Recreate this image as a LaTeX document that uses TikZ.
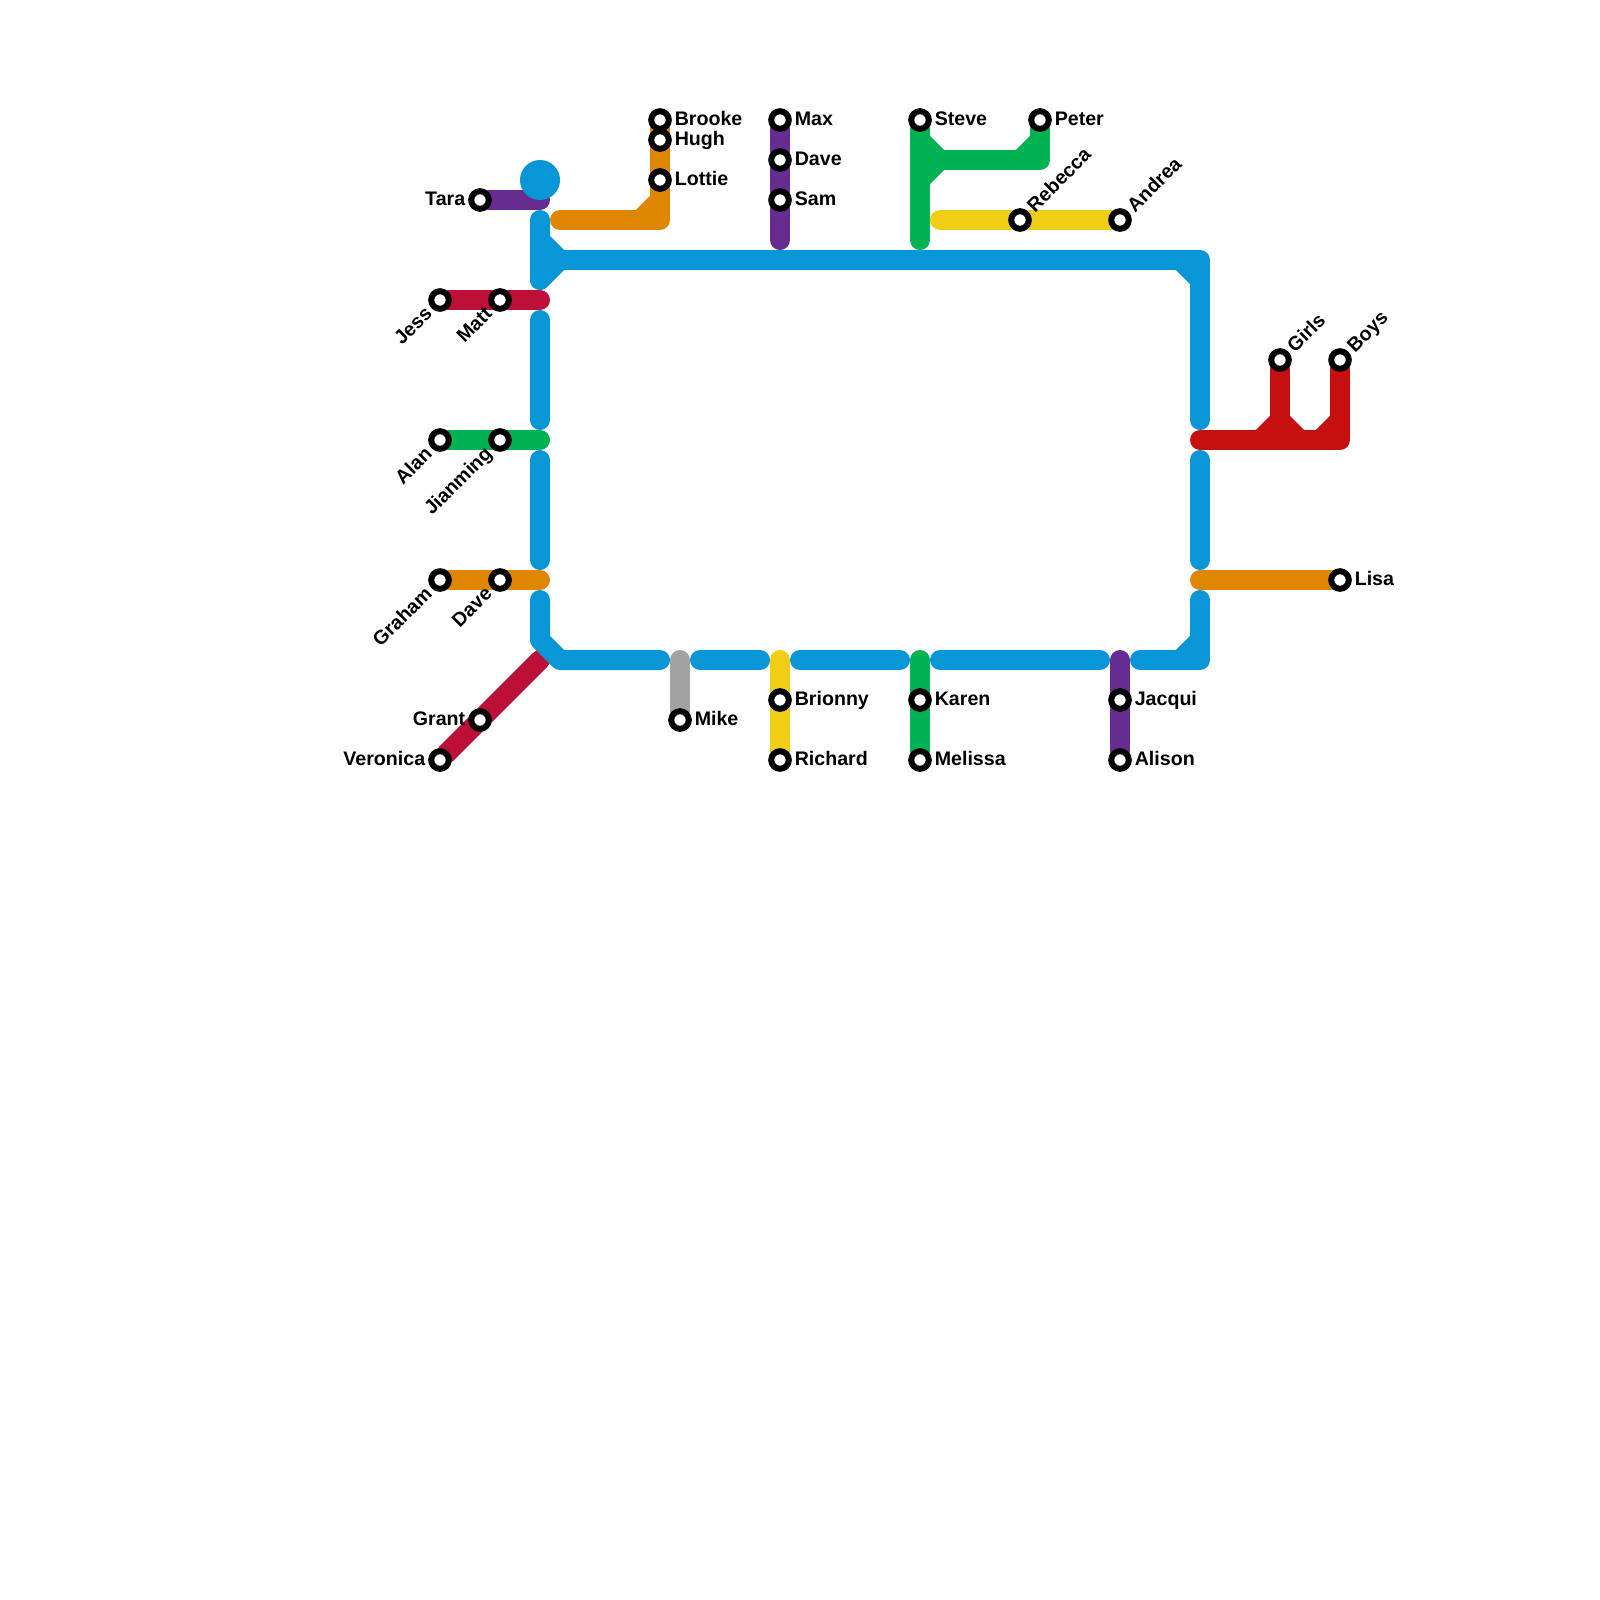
\documentclass[tikz,border=0pt]{standalone}
\usepackage{fontspec}
\setmainfont{Liberation Sans}
\usetikzlibrary{positioning,backgrounds}
\definecolor{Azure}{HTML}{0896D7}
\definecolor{Plum}{HTML}{662C90}
\definecolor{Crimson}{HTML}{BD1038}
\definecolor{Amber}{HTML}{DF8600}
\definecolor{Leaf}{HTML}{00B251}
\definecolor{Gold}{HTML}{F0CE15}
\definecolor{Ash}{HTML}{A2A2A2}
\definecolor{Scarlet}{HTML}{C61010}
\tikzset{
  st/.style={circle,draw=black,line width=.3cm,fill=white,minimum size=.88cm,inner sep=0pt,outer sep=0pt},
  hubst/.style={circle,fill=Azure,minimum size=2cm,inner sep=0pt},
  tube/.style={line width=1cm,line cap=round,line join=round},
  azure/.style={tube,draw=Azure},
  plum/.style={tube,draw=Plum},
  crimson/.style={tube,draw=Crimson},
  amber/.style={tube,draw=Amber},
  leaf/.style={tube,draw=Leaf},
  gold/.style={tube,draw=Gold},
  ash/.style={tube,draw=Ash},
  scarlet/.style={tube,draw=Scarlet},
  lab/.style={font=\bfseries\fontsize{27.9}{30}\selectfont,inner sep=0pt,outer sep=0pt,text height=.75em,text depth=.15em},
  labE/.style={lab,anchor=west,yshift=-.15cm},
  labW/.style={lab,anchor=east,yshift=-.15cm},
  labNE/.style={lab,anchor=west,rotate=45},
  labSW/.style={lab,anchor=east,rotate=45}
}
\begin{document}
\begin{tikzpicture}[x=1cm,y=-1cm]
  \useasboundingbox (0,0) rectangle (80,80);
  % stations, left side
  \node[st] (tara) at (24,10) {}; \node[labW,left=.3cm of tara] (taralab) {Tara};
  \node[st] (jess) at (22,15) {}; \node[labSW] (jesslab) at ([shift={(-.42,.68)}]jess) {Jess};
  \node[st] (matt) at (25,15) {}; \node[labSW] (mattlab) at ([shift={(-.42,.68)}]matt) {Matt};
  \node[st] (alan) at (22,22) {}; \node[labSW] (alanlab) at ([shift={(-.42,.68)}]alan) {Alan};
  \node[st] (jianming) at (25,22) {}; \node[labSW] (jianminglab) at ([shift={(-.42,.68)}]jianming) {Jianming};
  \node[st] (graham) at (22,29) {}; \node[labSW] (grahamlab) at ([shift={(-.42,.68)}]graham) {Graham};
  \node[st] (davew) at (25,29) {}; \node[labSW] (davewlab) at ([shift={(-.42,.68)}]davew) {Dave};
  \node[st] (grant) at (24,36) {}; \node[labW,left=.3cm of grant] (grantlab) {Grant};
  \node[st] (veronica) at (22,38) {}; \node[labW,left=.3cm of veronica] (veronicalab) {Veronica};
  % stations, top
  \node[hubst] (hub) at (27,9) {};
  \node[st] (brooke) at (33,6) {}; \node[labE,right=.3cm of brooke] (brookelab) {Brooke};
  \node[st] (hugh) at (33,7) {}; \node[labE,right=.3cm of hugh] (hughlab) {Hugh};
  \node[st] (lottie) at (33,9) {}; \node[labE,right=.3cm of lottie] (lottielab) {Lottie};
  \node[st] (max) at (39,6) {}; \node[labE,right=.3cm of max] (maxlab) {Max};
  \node[st] (daven) at (39,8) {}; \node[labE,right=.3cm of daven] (davenlab) {Dave};
  \node[st] (sam) at (39,10) {}; \node[labE,right=.3cm of sam] (samlab) {Sam};
  \node[st] (steve) at (46,6) {}; \node[labE,right=.3cm of steve] (stevelab) {Steve};
  \node[st] (peter) at (52,6) {}; \node[labE,right=.3cm of peter] (peterlab) {Peter};
  \node[st] (rebecca) at (51,11) {}; \node[labNE] (rebeccalab) at ([shift={(.68,-.42)}]rebecca) {Rebecca};
  \node[st] (andrea) at (56,11) {}; \node[labNE] (andrealab) at ([shift={(.68,-.42)}]andrea) {Andrea};
  % stations, bottom
  \node[st] (mike) at (34,36) {}; \node[labE,right=.3cm of mike] (mikelab) {Mike};
  \node[st] (brionny) at (39,35) {}; \node[labE,right=.3cm of brionny] (brionnylab) {Brionny};
  \node[st] (richard) at (39,38) {}; \node[labE,right=.3cm of richard] (richardlab) {Richard};
  \node[st] (karen) at (46,35) {}; \node[labE,right=.3cm of karen] (karenlab) {Karen};
  \node[st] (melissa) at (46,38) {}; \node[labE,right=.3cm of melissa] (melissalab) {Melissa};
  \node[st] (jacqui) at (56,35) {}; \node[labE,right=.3cm of jacqui] (jacquilab) {Jacqui};
  \node[st] (alison) at (56,38) {}; \node[labE,right=.3cm of alison] (alisonlab) {Alison};
  % stations, right side
  \node[st] (girls) at (64,18) {}; \node[labNE] (girlslab) at ([shift={(.68,-.42)}]girls) {Girls};
  \node[st] (boys) at (67,18) {}; \node[labNE] (boyslab) at ([shift={(.68,-.42)}]boys) {Boys};
  \node[st] (lisa) at (67,29) {}; \node[labE,right=.3cm of lisa] (lisalab) {Lisa};
  % bends and line ends
  \coordinate (tl0) at (27,11); \coordinate (tl1) at (27,12); \coordinate (tl2) at (28,13); \coordinate (tl3) at (27,14);
  \coordinate (tr0) at (59,13); \coordinate (tr1) at (60,13); \coordinate (tr2) at (60,14); \coordinate (tr3) at (60,21);
  \coordinate (l1) at (27,16); \coordinate (l2) at (27,21); \coordinate (l3) at (27,23); \coordinate (l4) at (27,28);
  \coordinate (l5) at (27,30); \coordinate (l6) at (27,32); \coordinate (l7) at (28,33); \coordinate (l8) at (33,33);
  \coordinate (b1) at (35,33); \coordinate (b2) at (38,33); \coordinate (b3) at (40,33); \coordinate (b4) at (45,33);
  \coordinate (b5) at (47,33); \coordinate (b6) at (55,33); \coordinate (b7) at (57,33); \coordinate (b8) at (59,33);
  \coordinate (br0) at (60,33); \coordinate (br1) at (60,32); \coordinate (br2) at (60,30);
  \coordinate (r1) at (60,23); \coordinate (r2) at (60,28);
  \coordinate (tarae) at (27,10); \coordinate (jesse) at (27,15); \coordinate (alane) at (27,22); \coordinate (grahame) at (27,29);
  \coordinate (vere) at (27,33);
  \coordinate (o0) at (28,11); \coordinate (o1) at (32,11); \coordinate (o2) at (33,11); \coordinate (o3) at (33,10);
  \coordinate (pe) at (39,12); \coordinate (se) at (46,12); \coordinate (s1) at (46,7); \coordinate (s2) at (47,8); \coordinate (s3) at (46,9);
  \coordinate (s4) at (51,8); \coordinate (s5) at (52,8); \coordinate (s6) at (52,7); \coordinate (y0) at (47,11);
  \coordinate (ashtop) at (34,33); \coordinate (goldtop) at (39,33); \coordinate (leaftop) at (46,33); \coordinate (plumtop) at (56,33);
  \coordinate (sc0) at (60,22); \coordinate (sc1) at (63,22); \coordinate (sc2) at (64,21); \coordinate (sc3) at (65,22);
  \coordinate (sc4) at (64,22); \coordinate (sc5) at (66,22); \coordinate (sc6) at (67,22); \coordinate (sc7) at (67,21);
  \coordinate (am0) at (60,29);
  \begin{scope}[on background layer]
    \draw[crimson] (veronica)--(vere);
    \draw[crimson] (jess)--(jesse);
    \draw[plum] (tara)--(tarae);
    \draw[leaf] (alan)--(alane);
    \draw[amber] (graham)--(grahame);
    \draw[amber] (o0)--(o2)--(brooke);
    \draw[amber] (o1)--(o3);
    \draw[plum] (max)--(pe);
    \draw[leaf] (steve)--(se);
    \draw[leaf] (s1)--(s2)--(s3);
    \draw[leaf] (s2)--(s5)--(peter);
    \draw[leaf] (s4)--(s6);
    \draw[gold] (y0)--(andrea);
    \draw[ash] (ashtop)--(mike);
    \draw[gold] (goldtop)--(richard);
    \draw[leaf] (leaftop)--(melissa);
    \draw[plum] (plumtop)--(alison);
    \draw[scarlet] (sc0)--(sc6)--(boys);
    \draw[scarlet] (girls)--(sc4);
    \draw[scarlet] (sc1)--(sc2)--(sc3);
    \draw[scarlet] (sc5)--(sc7);
    \draw[amber] (am0)--(lisa);
    \draw[azure] (tl0)--(tl3)--(tl2)--(tl1);
    \draw[azure] (tl2)--(tr1)--(tr3);
    \draw[azure] (tr0)--(tr2);
    \draw[azure] (l1)--(l2);
    \draw[azure] (l3)--(l4);
    \draw[azure] (l5)--(l6)--(l7)--(l8);
    \draw[azure] (b1)--(b2);
    \draw[azure] (b3)--(b4);
    \draw[azure] (b5)--(b6);
    \draw[azure] (b7)--(br0)--(br2);
    \draw[azure] (b8)--(br1);
    \draw[azure] (r1)--(r2);
  \end{scope}
\end{tikzpicture}
\end{document}
